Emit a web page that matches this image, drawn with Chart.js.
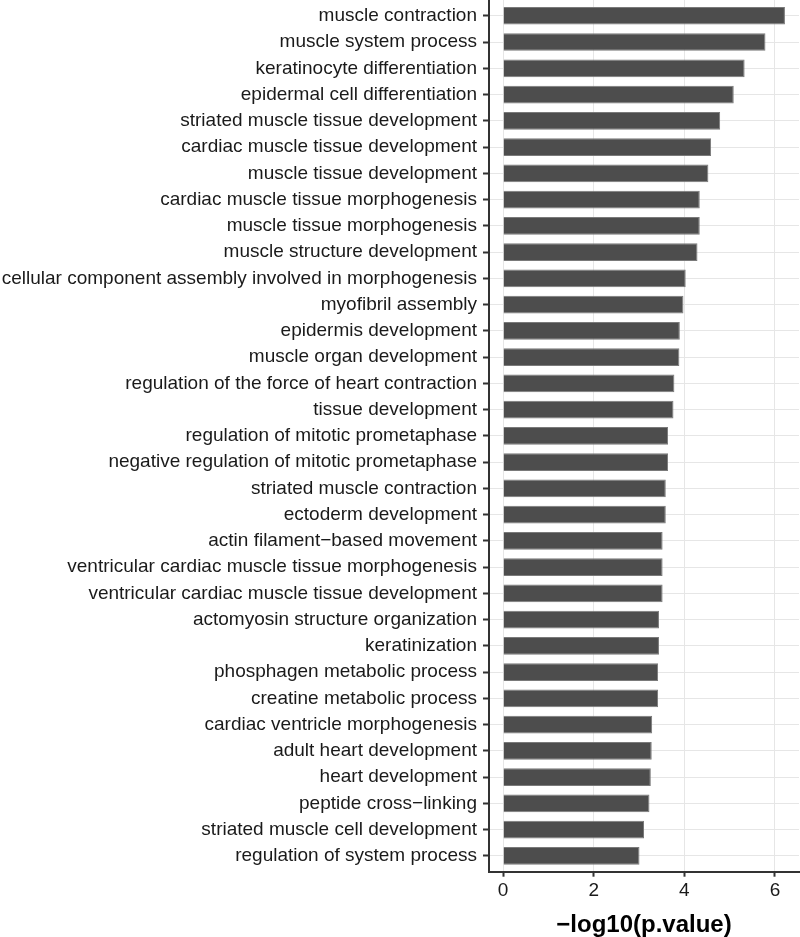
<!DOCTYPE html>
<html lang="en">
<head>
    <meta charset="UTF-8">
    <title>GO terms</title>
    <script src="https://cdn.jsdelivr.net/npm/chart.js"></script>
    <style>
        html, body { margin: 0; padding: 0; background: #ffffff; }
        #grafico { width: 800px; height: 937px; }
    </style>
</head>
<body>

    <div id="grafico">
        <canvas id="GraficoGO"></canvas>
    </div>

<script>

    var termos = [
        'muscle contraction',
        'muscle system process',
        'keratinocyte differentiation',
        'epidermal cell differentiation',
        'striated muscle tissue development',
        'cardiac muscle tissue development',
        'muscle tissue development',
        'cardiac muscle tissue morphogenesis',
        'muscle tissue morphogenesis',
        'muscle structure development',
        'cellular component assembly involved in morphogenesis',
        'myofibril assembly',
        'epidermis development',
        'muscle organ development',
        'regulation of the force of heart contraction',
        'tissue development',
        'regulation of mitotic prometaphase',
        'negative regulation of mitotic prometaphase',
        'striated muscle contraction',
        'ectoderm development',
        'actin filament\u2212based movement',
        'ventricular cardiac muscle tissue morphogenesis',
        'ventricular cardiac muscle tissue development',
        'actomyosin structure organization',
        'keratinization',
        'phosphagen metabolic process',
        'creatine metabolic process',
        'cardiac ventricle morphogenesis',
        'adult heart development',
        'heart development',
        'peptide cross\u2212linking',
        'striated muscle cell development',
        'regulation of system process'
    ];

    var valores = [
        6.22, 5.79, 5.33, 5.09, 4.79, 4.59, 4.53, 4.34, 4.34, 4.29,
        4.03, 3.98, 3.90, 3.89, 3.78, 3.76, 3.64, 3.64, 3.59, 3.59,
        3.52, 3.52, 3.52, 3.44, 3.44, 3.42, 3.42, 3.29, 3.28, 3.26,
        3.23, 3.11, 3.01
    ];

    var ticksX = [0, 2, 4, 6];

    var tituloX = '\u2212log10(p.value)';

    // ggplot-like expansion of the scales
    var xMin = -0.311;
    var xMax = 6.53;

    var pontos = [];
    for (var i = 0; i < valores.length; i++) {
        pontos.push({ x: valores[i], y: i });
    }

    var fonte = "'Liberation Sans', Arial, Helvetica, sans-serif";

    const ctx = document.getElementById('GraficoGO').getContext('2d');
    const grafico = new Chart(ctx, {
        type: 'bar',
        data: {
            datasets: [{
                label: '-log10(p.value)',
                data: pontos,
                backgroundColor: '#4d4d4d',
                borderColor: '#7a7a7a',
                borderWidth: 1,
                barPercentage: 0.675,
                categoryPercentage: 1
            }]
        },
        options: {
            indexAxis: 'y',
            responsive: true,
            maintainAspectRatio: false,
            animation: false,
            layout: {
                padding: { top: 0, right: 1, bottom: 0, left: 0 }
            },
            plugins: {
                legend: { display: false },
                tooltip: { enabled: false }
            },
            scales: {
                y: {
                    type: 'linear',
                    reverse: true,
                    offset: false,
                    min: -0.6,
                    max: termos.length - 1 + 0.6,
                    afterFit: function (scale) {
                        scale.width = 489;
                        scale.paddingTop = 0;
                        scale.paddingBottom = 0;
                    },
                    afterBuildTicks: function (scale) {
                        scale.ticks = termos.map(function (t, i) { return { value: i }; });
                    },
                    ticks: {
                        autoSkip: false,
                        includeBounds: false,
                        padding: 6,
                        color: '#1a1a1a',
                        font: { family: fonte, size: 19 },
                        callback: function (value) { return termos[value]; }
                    },
                    grid: {
                        offset: false,
                        color: '#e6e6e6',
                        lineWidth: 1,
                        tickColor: '#333333',
                        tickLength: 6,
                        tickWidth: 2
                    },
                    border: { color: '#333333', width: 2 }
                },
                x: {
                    type: 'linear',
                    min: xMin,
                    max: xMax,
                    afterFit: function (scale) {
                        scale.height = 65.3;
                        scale.paddingLeft = 0;
                        scale.paddingRight = 0;
                    },
                    afterBuildTicks: function (scale) {
                        scale.ticks = ticksX.map(function (v) { return { value: v }; });
                    },
                    ticks: {
                        includeBounds: false,
                        padding: 3,
                        color: '#1a1a1a',
                        font: { family: fonte, size: 19 }
                    },
                    grid: {
                        color: '#e6e6e6',
                        lineWidth: 1,
                        tickColor: '#333333',
                        tickLength: 5,
                        tickWidth: 2
                    },
                    border: { color: '#333333', width: 2 },
                    title: {
                        display: true,
                        text: tituloX,
                        color: '#000000',
                        padding: { top: 0, bottom: 0 },
                        font: { family: fonte, size: 24, weight: 'bold', lineHeight: 1 }
                    }
                }
            }
        }
    });

</script>
</body>
</html>
